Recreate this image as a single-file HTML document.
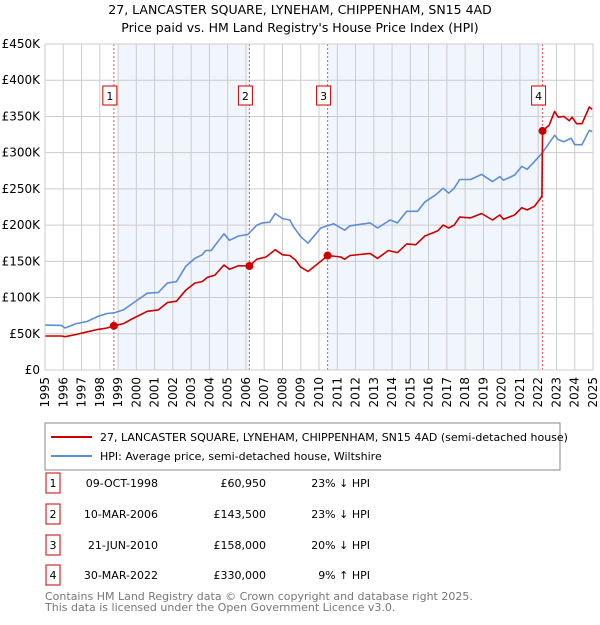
<!DOCTYPE html>
<html><head><meta charset="utf-8"><style>
body{margin:0;background:#fff;font-family:"Liberation Sans","DejaVu Sans",sans-serif;}
svg text{font-family:"DejaVu Sans","Liberation Sans",sans-serif;}
</style></head><body>
<svg id="c" width="600" height="620" xmlns="http://www.w3.org/2000/svg">
<text x="300" y="14" text-anchor="middle" font-size="12.5">27, LANCASTER SQUARE, LYNEHAM, CHIPPENHAM, SN15 4AD</text>
<text x="300" y="32" text-anchor="middle" font-size="12.5">Price paid vs. HM Land Registry's House Price Index (HPI)</text>
<g id="plot"></g>
<rect x="45" y="423" width="515" height="47" fill="#fff" stroke="#888"/>
<line x1="51" y1="437" x2="92" y2="437" stroke="#cc0000" stroke-width="2"/>
<text x="100" y="441" font-size="11">27, LANCASTER SQUARE, LYNEHAM, CHIPPENHAM, SN15 4AD (semi-detached house)</text>
<line x1="51" y1="456" x2="92" y2="456" stroke="#5b8ed6" stroke-width="2"/>
<text x="100" y="460" font-size="11">HPI: Average price, semi-detached house, Wiltshire</text>
<g id="table"></g>
<text x="45" y="600" font-size="11" fill="#777">Contains HM Land Registry data © Crown copyright and database right 2025.</text>
<text x="45" y="611" font-size="11" fill="#777">This data is licensed under the Open Government Licence v3.0.</text>
</svg>
<script>
const yTicks=[0,50,100,150,200,250,300,350,400,450];
const yTickLabels=["£0","£50K","£100K","£150K","£200K","£250K","£300K","£350K","£400K","£450K"];
const xYears=[1995,1996,1997,1998,1999,2000,2001,2002,2003,2004,2005,2006,2007,2008,2009,2010,2011,2012,2013,2014,2015,2016,2017,2018,2019,2020,2021,2022,2023,2024,2025];
const saleYears=[1998.77,2006.19,2010.47,2022.24];
const salePrices=[60.95,143.5,158,330];
const saleLabels=["1","2","3","4"];
const saleDates=["09-OCT-1998","10-MAR-2006","21-JUN-2010","30-MAR-2022"];
const salePriceText=["£60,950","£143,500","£158,000","£330,000"];
const saleHpiText=["23% ↓ HPI","23% ↓ HPI","20% ↓ HPI","9% ↑ HPI"];
const shadeStart=[1999.0,2010.47];
const shadeEnd=[2006.19,2022.24];
const hpiYears=[1995,1995.9,1996.1,1996.7,1997.3,1997.9,1998.4,1998.8,1999.3,1999.8,2000.6,2001.2,2001.7,2002.2,2002.7,2003.2,2003.6,2003.8,2004.1,2004.4,2004.8,2005.1,2005.6,2006.1,2006.6,2006.9,2007.3,2007.6,2008.0,2008.4,2008.6,2009.0,2009.4,2010.1,2010.8,2011.4,2011.7,2012.8,2013.2,2013.9,2014.3,2014.8,2015.4,2015.8,2016.4,2016.8,2017.1,2017.4,2017.7,2018.3,2018.9,2019.5,2019.9,2020.1,2020.7,2021.1,2021.4,2021.8,2022.2,2022.9,2023.1,2023.4,2023.8,2024.0,2024.4,2024.8,2024.95];
const hpiValues=[62,61.5,58,64,67,74,78,79,83,92,106,107,120,122,143,154,159,165,165,175,188,179,185,187,200,203,204,216,209,207,198,184,175,196,202,193,199,203,196,207,203,219,219,232,242,251,244,251,263,263,270,260,267,262,269,281,277,288,299,324,318,315,320,311,311,331,329];
const priceYears=[1995,1995.9,1996.1,1996.7,1997.2,1997.9,1998.4,1998.77,1999.3,1999.8,2000.6,2001.2,2001.7,2002.2,2002.7,2003.2,2003.6,2003.9,2004.3,2004.8,2005.1,2005.6,2006.19,2006.6,2007.1,2007.6,2008.0,2008.4,2008.7,2009.0,2009.4,2010.1,2010.47,2011.2,2011.4,2011.7,2012.8,2013.2,2013.8,2014.3,2014.8,2015.3,2015.8,2016.5,2016.8,2017.1,2017.4,2017.7,2018.3,2018.9,2019.5,2019.9,2020.1,2020.7,2021.1,2021.4,2021.8,2022.1,2022.2,2022.24,2022.6,2022.9,2023.1,2023.4,2023.7,2023.85,2024.1,2024.4,2024.8,2024.95];
const priceValues=[47,47,46,49,52,56,58,60.95,64,71,81,83,93,95,110,120,122,128,131,145,139,144,143.5,153,156,166,159,158,152,142,136,150,158,156,153,158,161,154,165,162,174,173,185,192,200,196,200,211,210,216,207,214,208,214,224,221,226,236,240,330,338,357,349,350,344,349,340,340,363,360];

const NS="http://www.w3.org/2000/svg";
const X0=45,X1=593,Y0=370,Y1=44;
function xs(y){return X0+(y-1995)/30*(X1-X0);}
function ys(v){return Y0-v/450*(Y0-Y1);}
function mk(tag,attrs,parent){const e=document.createElementNS(NS,tag);for(const k in attrs)e.setAttribute(k,attrs[k]);parent.appendChild(e);return e;}
const plot=document.getElementById('plot');
for(let i=0;i<shadeStart.length;i++){
 const r=mk('rect',{x:xs(shadeStart[i]),y:Y1,width:xs(shadeEnd[i])-xs(shadeStart[i]),height:Y0-Y1,fill:'#eef3fc',opacity:'0.8'},plot);
 
 
}
xYears.forEach(y=>{
 const l=mk('line',{x1:xs(y),x2:xs(y),y1:Y1,y2:Y0,stroke:'#cccccc','stroke-width':1},plot);
 
 
 const t=mk('text',{x:0,y:0,'font-size':12,'text-anchor':'end',transform:`translate(${xs(y)+4},${Y0+7}) rotate(-90)`},plot);
 t.textContent=y;
 
 
});
yTicks.forEach((v,i)=>{
 const l=mk('line',{x1:X0,x2:X1,y1:ys(v),y2:ys(v),stroke:'#cccccc','stroke-width':1},plot);
 
 
 const t=mk('text',{x:40,y:ys(v)+4,'font-size':12,'text-anchor':'end'},plot);
 t.textContent=yTickLabels[i];
 
 
});
saleYears.forEach((y,i)=>{
 const l=mk('line',{x1:xs(y),x2:xs(y),y1:Y1,y2:Y0,stroke:'#ee5555','stroke-width':1,'stroke-dasharray':'2,2'},plot);
 
 
 const b=mk('rect',{x:xs(y)-11,y:86,width:14,height:19,fill:'#fff',stroke:'#cc0000'},plot);
 
 
 const t=mk('text',{x:xs(y)-4,y:100,'font-size':11,'text-anchor':'middle'},plot);
 t.textContent=saleLabels[i];
 
 
});
function path(xsArr,vals,color,name){
 const d=xsArr.map((y,i)=>(i?'L':'M')+xs(y).toFixed(1)+','+ys(vals[i]).toFixed(1)).join('');
 const p=mk('path',{d:d,fill:'none',stroke:color,'stroke-width':1.6,'stroke-linejoin':'round'},plot);
 
 
}
path(hpiYears,hpiValues,'#5b8ed6','hpi-line');
path(priceYears,priceValues,'#cc0000','price-line');
saleYears.forEach((y,i)=>{
 const c=mk('circle',{cx:xs(y),cy:ys(salePrices[i]),r:4,fill:'#cc0000'},plot);
 
 
});
mk('rect',{x:X0,y:Y1,width:X1-X0,height:Y0-Y1,fill:'none',stroke:'#cccccc'},plot);
const tb=document.getElementById('table');
const rowY=[483,514,545,575];
saleLabels.forEach((s,i)=>{
 const y=rowY[i];
 const b=mk('rect',{x:46,y:y-10,width:14,height:20,fill:'#fff',stroke:'#cc0000'},tb);
 
 
 const t0=mk('text',{x:53,y:y+4,'font-size':11,'text-anchor':'middle'},tb);t0.textContent=s;
 
 
 const t1=mk('text',{x:158,y:y+4,'font-size':11,'text-anchor':'end'},tb);t1.textContent=saleDates[i];
 
 
 const t2=mk('text',{x:266,y:y+4,'font-size':11,'text-anchor':'end'},tb);t2.textContent=salePriceText[i];
 
 
 const t3=mk('text',{x:370,y:y+4,'font-size':11,'text-anchor':'end'},tb);t3.textContent=saleHpiText[i];
 
 
});
</script>
</body></html>
